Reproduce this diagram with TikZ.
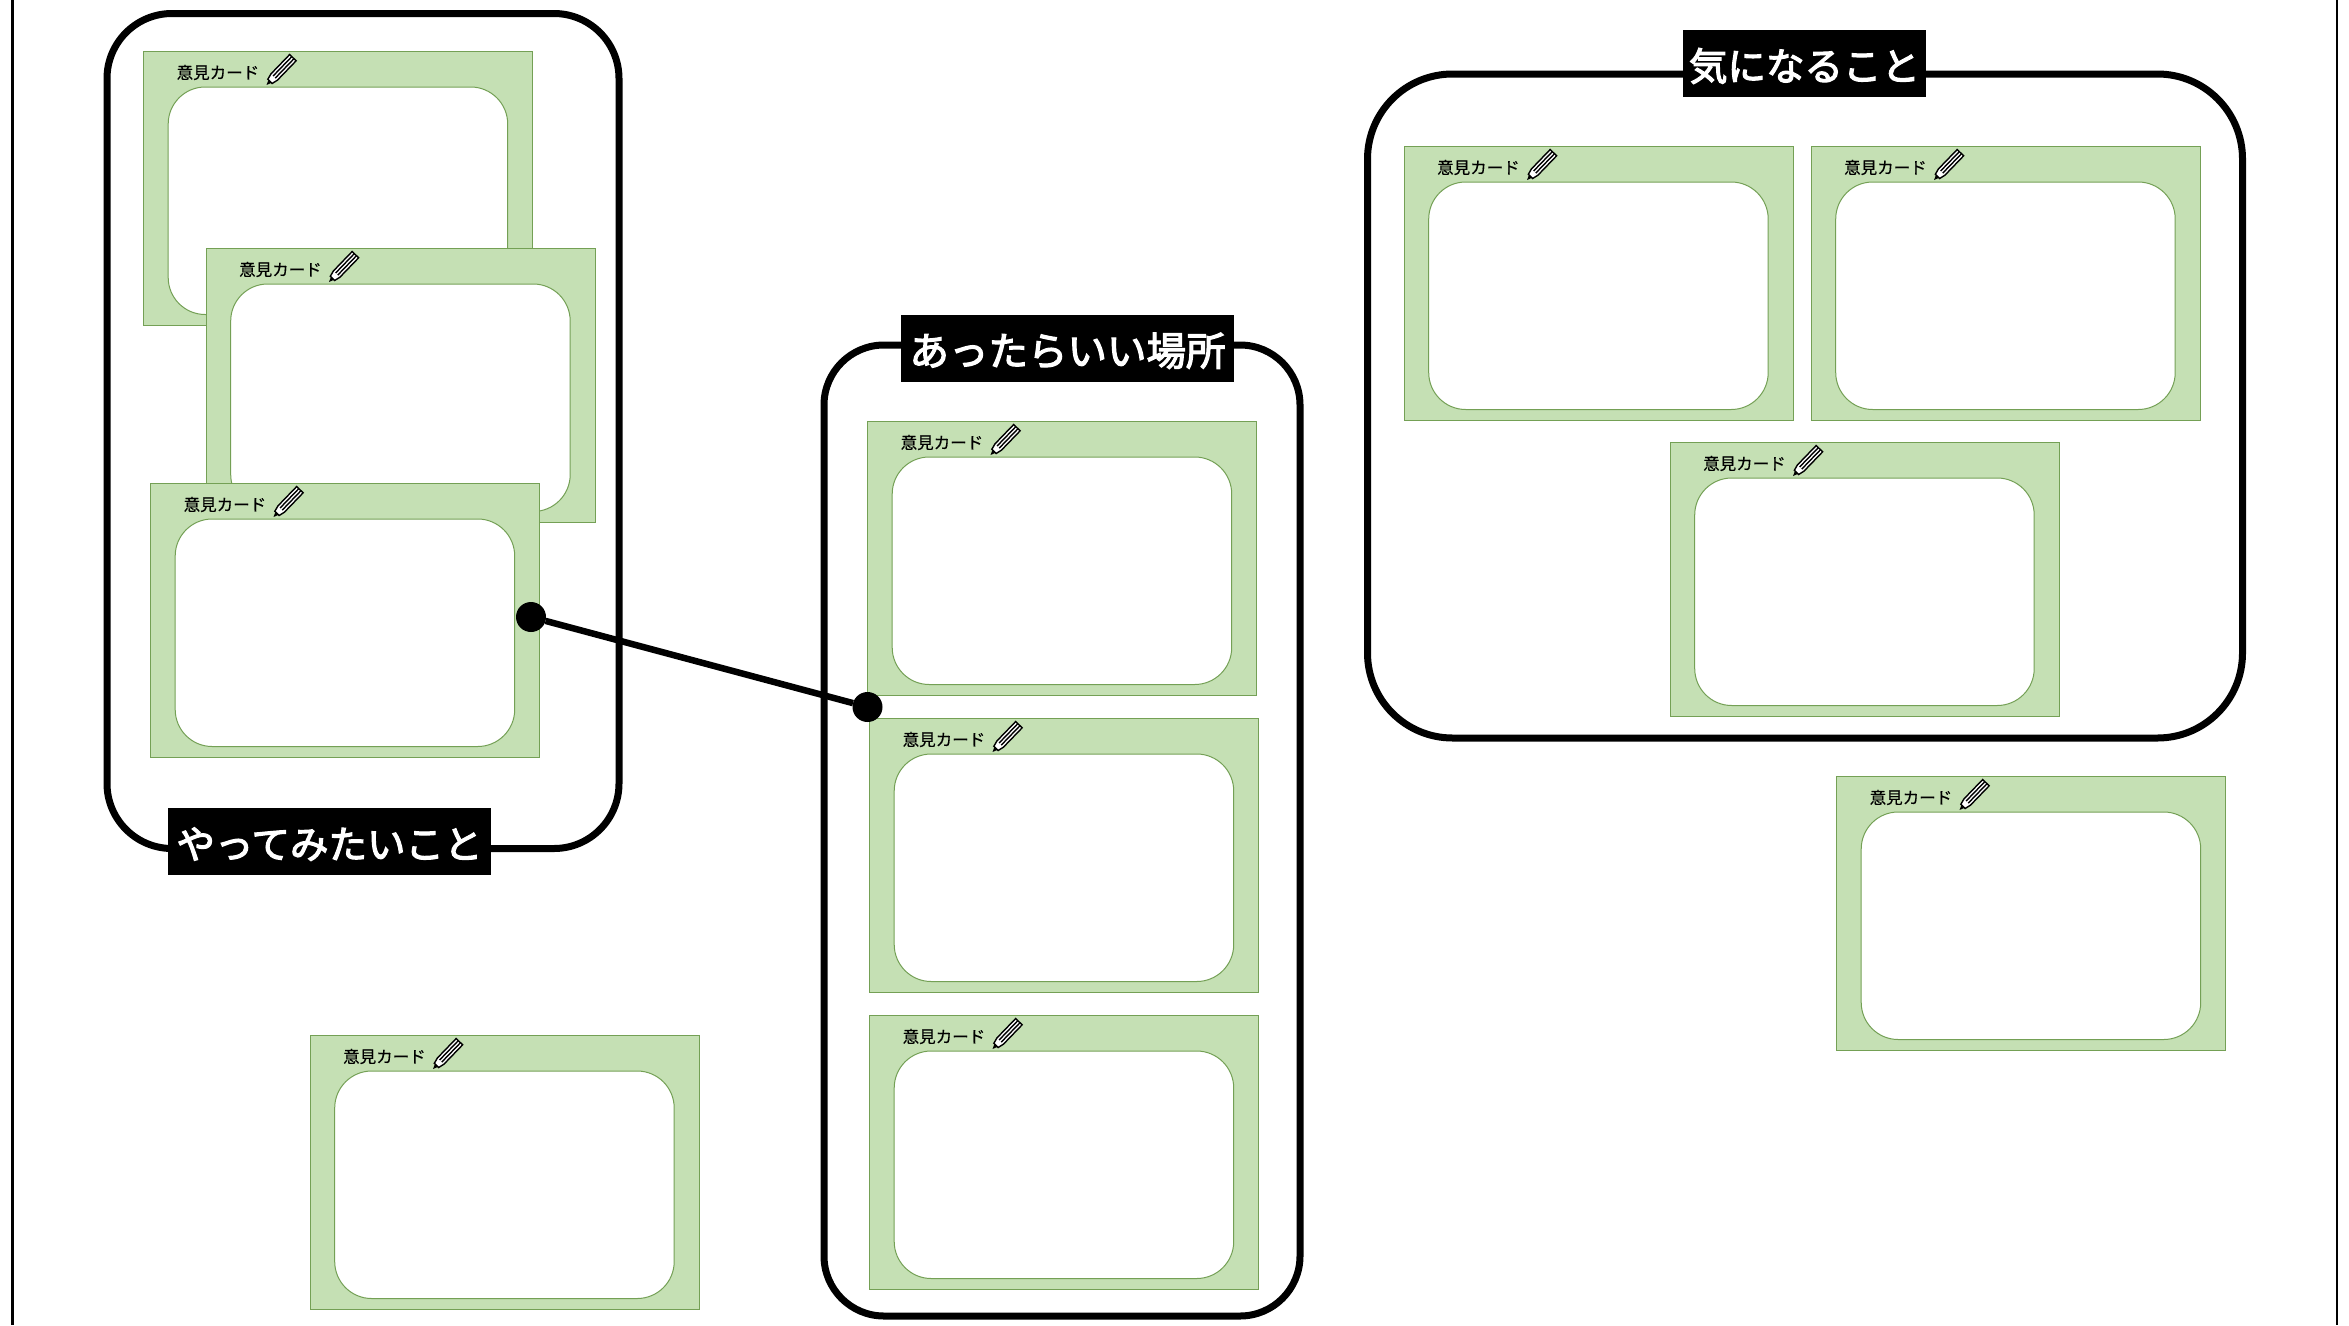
\documentclass[tikz,border=0pt]{standalone}
\usepackage{fontspec}
\newfontfamily\cjk[FakeBold=0.4]{Noto Sans CJK JP}
\newfontfamily\cjklabel[FakeBold=3]{Noto Sans CJK JP}
\definecolor{cardgreen}{HTML}{C5E0B4}
\definecolor{cardedge}{HTML}{74A055}
\tikzset{
    cardbox/.style={draw=cardedge,fill=cardgreen,line width=1pt,minimum width=389pt,minimum height=274.5pt,inner sep=0pt,outer sep=0pt,anchor=north west},
    cardinner/.style={draw=cardedge,fill=white,line width=1pt,minimum width=339.5pt,minimum height=227.5pt,rounded corners=37pt,inner sep=0pt,outer sep=0pt,anchor=north west},
    cardtext/.style={font=\cjk\fontsize{16.5}{16.5}\selectfont,inner sep=0pt,anchor=west},
    groupframe/.style={draw=black,line width=7pt,inner sep=0pt,outer sep=0pt},
    grouplabel/.style={fill=black,text=white,font=\cjklabel\fontsize{38.5}{38.5}\selectfont,inner sep=0pt,outer sep=0pt,minimum height=67pt,text depth=0pt,text height=34pt},
    linkdot/.style={circle,fill=black,minimum size=30pt,inner sep=0pt,outer sep=0pt},
    pencil/.pic={
        \fill[black] (0,0) -- (6,-2.5) -- (6,2.5) -- cycle;
        \draw[black,fill=white,line width=1.4pt] (5,-3) -- (11,-4.5) -- (38,-4.5) -- (38,4.5) -- (11,4.5) -- (5,3) -- cycle;
        \draw[black,line width=1.4pt] (11,-1.5) -- (38,-1.5) (11,1.5) -- (38,1.5);
    }
}
\begin{document}
\begin{tikzpicture}[x=1pt,y=-1pt]
    \useasboundingbox (0,0) rectangle (2349,1325);

    % Page edges
    \draw[line width=2.5pt] (12.5,0) -- (12.5,1325);
    \draw[line width=2.5pt] (2337,0) -- (2337,1325);

    % Group frames
    \node[groupframe,minimum width=512pt,minimum height=835pt,rounded corners=65pt] (frameYatte) at (363,431) {};
    \node[groupframe,minimum width=476pt,minimum height=971pt,rounded corners=60pt] (frameBasho) at (1062,830.5) {};
    \node[groupframe,minimum width=875pt,minimum height=664pt,rounded corners=85pt] (frameKini) at (1805,406) {};

    % Opinion cards
    \foreach \cardname/\x/\y in {cardA/143.5/51,cardB/206/248,cardC/150.5/483,cardD/310/1035,cardE/867.5/421,cardF/869.5/718,cardG/869.5/1015,cardH/1404/146,cardI/1811/146,cardJ/1670/442,cardK/1836.5/776} {
        \node[cardbox] (\cardname) at (\x,\y) {};
        \node[cardinner] (\cardname-inner) at ([shift={(24.7,36)}]\cardname.north west) {};
        \node[cardtext] (\cardname-text) at ([shift={(33,21.5)}]\cardname.north west) {意見カード};
        \pic[rotate=46] at ([shift={(123,34)}]\cardname.north west) {pencil};
    }

    % Group labels
    \node[grouplabel,minimum width=323pt] (labelYatte) at (329.5,841.5) {やってみたいこと};
    \node[grouplabel,minimum width=333pt,font=\cjklabel\fontsize{39.5}{39.5}\selectfont] (labelBasho) at (1067.5,348.5) {あったらいい場所};
    \node[grouplabel,minimum width=243pt] (labelKini) at (1804.5,63.5) {気になること};

    % Link between cards
    \node[linkdot] (dotStart) at (531,617) {};
    \node[linkdot] (dotEnd) at (867.5,707) {};
    \draw[line width=6.5pt] (dotStart) -- (dotEnd);
\end{tikzpicture}
\end{document}
